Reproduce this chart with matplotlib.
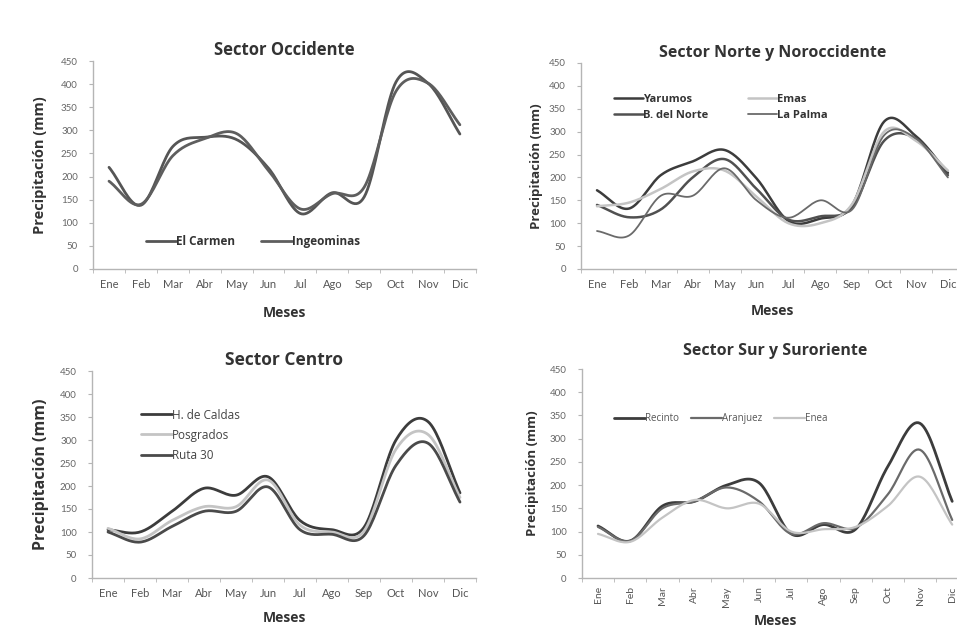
import numpy as np
import matplotlib
matplotlib.use("Agg")
import matplotlib.pyplot as plt

plt.rcParams['font.family'] = ['Lato', 'DejaVu Sans']
HEAD = ['Open Sans', 'DejaVu Sans']

meses = ["Ene", "Feb", "Mar", "Abr", "May", "Jun", "Jul", "Ago", "Sep", "Oct", "Nov", "Dic"]

# Sector Occidente
el_carmen = [220, 138, 265, 285, 280, 218, 120, 165, 156, 405, 402, 292]
ingeominas = [190, 140, 245, 282, 293, 213, 130, 163, 177, 385, 402, 312]

# Sector Norte y Noroccidente
yarumos = [172, 132, 205, 235, 260, 198, 105, 110, 140, 322, 290, 210]
b_del_norte = [140, 113, 130, 200, 240, 175, 108, 115, 135, 280, 285, 205]
emas = [137, 145, 175, 213, 215, 158, 100, 100, 142, 300, 280, 215]
la_palma = [83, 73, 160, 160, 220, 150, 112, 150, 130, 292, 285, 200]

# Sector Centro
h_de_caldas = [105, 100, 145, 195, 180, 220, 125, 105, 110, 300, 340, 185]
posgrados = [108, 85, 125, 155, 155, 213, 115, 100, 102, 280, 312, 175]
ruta_30 = [100, 78, 112, 145, 145, 198, 105, 95, 92, 245, 293, 165]

# Sector Sur y Suroriente
recinto = [112, 80, 155, 165, 200, 205, 95, 115, 105, 240, 333, 165]
aranjuez = [110, 80, 150, 165, 195, 165, 95, 118, 108, 180, 276, 125]
enea = [95, 78, 130, 168, 150, 160, 100, 105, 110, 155, 218, 115]

DARK = "#3c3c3c"
MID = "#6a6a6a"
LIGHT = "#c4c4c4"
TXT = "#333333"


def smooth(y, n=20):
    # Catmull-Rom path through the monthly values (like Excel smoothed lines)
    y = np.asarray(y, float)
    p = np.concatenate([[2 * y[0] - y[1]], y, [2 * y[-1] - y[-2]]])
    xs, ys = [], []
    for i in range(len(y) - 1):
        p0, p1, p2, p3 = p[i], p[i + 1], p[i + 2], p[i + 3]
        t = np.linspace(0, 1, n, endpoint=False)
        yy = 0.5 * (2 * p1 + (-p0 + p2) * t + (2 * p0 - 5 * p1 + 4 * p2 - p3) * t ** 2
                    + (-p0 + 3 * p1 - 3 * p2 + p3) * t ** 3)
        xs.append(i + t)
        ys.append(yy)
    xs.append([len(y) - 1])
    ys.append([y[-1]])
    return np.concatenate(xs), np.concatenate(ys)


W, H = 957, 629
fig = plt.figure(figsize=(W / 100, H / 100), dpi=100)
fig.patch.set_facecolor("white")


def make_ax(top, bottom, spacing, ene_x, ylab_size=10.5, ylab_pad=10, xlab_pad=10, rotate=False):
    x0 = ene_x - 0.5 * spacing
    width = 12 * spacing
    ax = fig.add_axes([x0 / W, 1 - bottom / H, width / W, (bottom - top) / H])
    ax.set_xlim(-0.5, 11.5)
    ax.set_ylim(0, 450)
    ax.set_yticks(range(0, 451, 50))
    ax.set_xticks(range(12))
    ax.set_xticklabels(meses)
    ax.set_xticks(np.arange(-0.5, 12, 1), minor=True)
    for s in ["top", "right"]:
        ax.spines[s].set_visible(False)
    for s in ["left", "bottom"]:
        ax.spines[s].set_color("#b5b5b5")
        ax.spines[s].set_linewidth(1.0)
    ax.tick_params(axis="y", labelsize=7, colors="#b5b5b5", labelcolor="#666666", length=3, pad=8)
    ax.tick_params(axis="x", which="minor", length=3, colors="#b5b5b5")
    if rotate:
        ax.tick_params(axis="x", which="major", length=0, labelsize=7.5, labelcolor="#555555",
                       pad=6, labelrotation=90)
    else:
        # baseline alignment keeps "Jun"/"Jul" level with the other months
        ax.tick_params(axis="x", which="major", length=0, labelsize=8, labelcolor="#555555", pad=14)
        for lab in ax.get_xticklabels():
            lab.set_verticalalignment("baseline")
    ax.set_ylabel("Precipitación (mm)", fontsize=ylab_size, fontweight="bold", color=TXT,
                  labelpad=ylab_pad, family=HEAD)
    ax.set_xlabel("Meses", fontsize=10, fontweight="bold", color=TXT, labelpad=xlab_pad,
                  family=HEAD)
    return ax


def plot_series(ax, series):
    handles = []
    for vals, name, col, lw in series:
        x, y = smooth(vals)
        h, = ax.plot(x, y, color=col, lw=lw, label=name, solid_capstyle="round")
        handles.append(h)
    return handles


# Sector Occidente
ax1 = make_ax(61, 269, 31.9, 109, ylab_size=10.5, ylab_pad=10, xlab_pad=11)
h = plot_series(ax1, [(el_carmen, "El Carmen", "#555555", 2.0),
                      (ingeominas, "Ingeominas", "#5e5e5e", 2.0)])
ax1.set_title("Sector Occidente", fontsize=12, fontweight="bold", color=TXT, pad=4, family=HEAD)
leg = ax1.legend(handles=h, ncol=2, loc="lower left", bbox_to_anchor=(0.11, 0.05), frameon=False,
                 handlelength=2.6, handletextpad=0.0, columnspacing=2.2,
                 prop={"size": 8.5, "weight": "bold", "family": HEAD})
for t in leg.get_texts():
    t.set_color(TXT)

# Sector Norte y Noroccidente
ax2 = make_ax(63, 269, 31.9, 597, ylab_size=9.5, ylab_pad=4, xlab_pad=10)
h = plot_series(ax2, [(yarumos, "Yarumos", DARK, 1.8),
                      (b_del_norte, "B. del Norte", "#505050", 1.8),
                      (emas, "Emas", LIGHT, 1.8),
                      (la_palma, "La Palma", MID, 1.3)])
ax2.set_title("Sector Norte y Noroccidente", fontsize=11.5, fontweight="bold", color=TXT, pad=4,
              family=HEAD)
leg = ax2.legend(handles=h, ncol=2, loc="upper left", bbox_to_anchor=(0.06, 0.9), frameon=False,
                 handlelength=2.6, handletextpad=0.0, columnspacing=3.6, labelspacing=0.5,
                 prop={"size": 8, "weight": "bold", "family": HEAD})
for t in leg.get_texts():
    t.set_color(TXT)

# Sector Centro
ax3 = make_ax(371, 578, 32.0, 108, ylab_size=11.5, ylab_pad=8, xlab_pad=8)
h = plot_series(ax3, [(h_de_caldas, "H. de Caldas", DARK, 2.0),
                      (posgrados, "Posgrados", LIGHT, 2.0),
                      (ruta_30, "Ruta 30", "#4a4a4a", 2.0)])
ax3.set_title("Sector Centro", fontsize=12.5, fontweight="bold", color=TXT, pad=4, family=HEAD)
leg = ax3.legend(handles=h, loc="upper left", bbox_to_anchor=(0.1, 0.87), frameon=False,
                 handlelength=2.6, handletextpad=0.0, labelspacing=0.6,
                 prop={"size": 8.5, "family": HEAD})
for t in leg.get_texts():
    t.set_color("#444444")

# Sector Sur y Suroriente
ax4 = make_ax(369, 578, 32.2, 598, ylab_size=9.5, ylab_pad=8, xlab_pad=5, rotate=True)
h = plot_series(ax4, [(recinto, "Recinto", DARK, 2.0),
                      (aranjuez, "Aranjuez", MID, 1.6),
                      (enea, "Enea", LIGHT, 1.6)])
ax4.set_title("Sector Sur y Suroriente", fontsize=11.5, fontweight="bold", color=TXT, pad=10,
              family=HEAD)
leg = ax4.legend(handles=h, ncol=3, loc="upper left", bbox_to_anchor=(0.06, 0.83), frameon=False,
                 handlelength=3.2, handletextpad=0.0, columnspacing=1.2,
                 prop={"size": 7, "family": HEAD})
for t in leg.get_texts():
    t.set_color("#555555")

fig.savefig("out.png", dpi=100, facecolor="white")
